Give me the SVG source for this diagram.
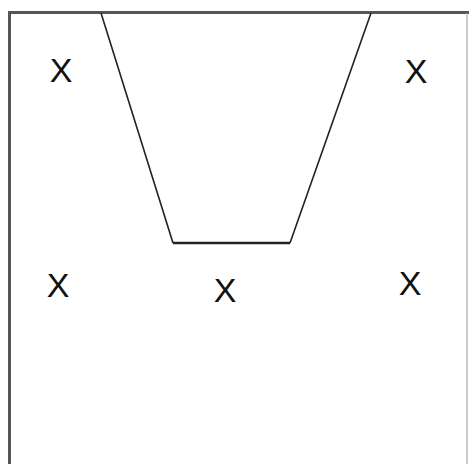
<svg xmlns="http://www.w3.org/2000/svg" width="469" height="464" viewBox="0 0 469 464">
<style>
.x{font-family:"Liberation Sans",Arial,sans-serif;font-size:34px;fill:#111;text-anchor:middle}
.b{stroke:#555;stroke-width:3;fill:none}
.t{stroke:#222;stroke-width:1.6;fill:none}
</style>
<rect width="469" height="464" fill="#fff"/>
<g id="frame">
<line class="b" x1="8" y1="12.5" x2="469" y2="12.5"/>
<line class="b" x1="9.5" y1="11" x2="9.5" y2="464"/>
<line x1="467" y1="13" x2="467" y2="464" stroke="#aaa" stroke-width="1.2"/>
</g>
<g id="lane">
<path class="t" d="M101,13 L173,243 M290,243 L371,13"/>
<line x1="173" y1="243" x2="290" y2="243" stroke="#222" stroke-width="2.5"/>
</g>
<g id="marks">
<text class="x" x="61" y="82">X</text>
<text class="x" x="416" y="83">X</text>
<text class="x" x="58" y="297">X</text>
<text class="x" x="225" y="302">X</text>
<text class="x" x="410" y="295">X</text>
</g>
</svg>
